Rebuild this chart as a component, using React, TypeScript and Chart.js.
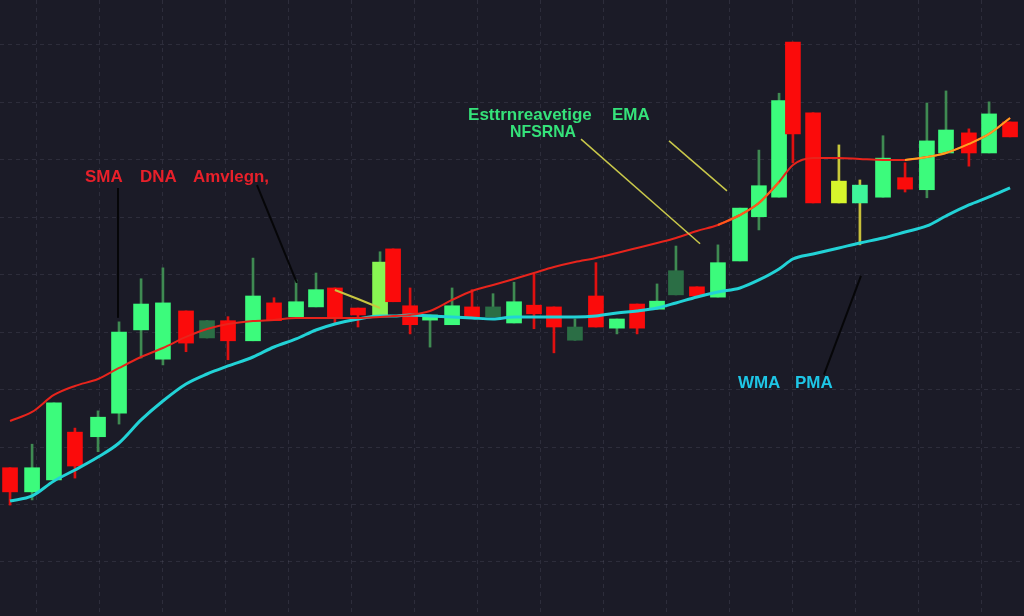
import React, { useEffect, useRef } from "react";
import { Chart, registerables } from "chart.js";

Chart.register(...registerables);

// ---- data ----
const sessions = [0.24, 1.29, 2.33, 3.33, 4.43, 5.43, 6.48, 7.52, 8.62, 9.62, 10.62, 11.81, 12.81, 13.86, 14.81, 15.71, 16.81, 17.86, 18.48, 19.29, 20.24, 21.29, 22.24, 23.24, 24.24, 25.19, 26.14, 27.14, 28.14, 29.14, 30.1, 31.05, 31.95, 32.95, 33.95, 35.0, 35.9, 36.86, 37.52, 38.48, 39.71, 40.71, 41.81, 42.86, 43.9, 44.81, 45.9, 46.86, 47.86];
const openPrices = [116.4, 112.2, 114.3, 122.6, 121.8, 125.9, 140.4, 135.3, 143.7, 139.0, 142.0, 138.5, 145.1, 142.7, 144.4, 147.7, 144.2, 143.0, 154.5, 144.6, 142.1, 141.3, 144.4, 142.7, 141.6, 144.7, 144.4, 138.6, 146.3, 140.7, 144.9, 144.0, 146.5, 147.9, 146.1, 152.4, 160.1, 163.5, 190.5, 178.2, 162.5, 162.5, 163.5, 166.9, 164.8, 171.2, 174.7, 171.2, 176.6];
const highPrices = [116.4, 120.5, 127.7, 123.3, 126.3, 141.8, 149.3, 151.2, 143.7, 142.0, 142.7, 152.9, 146.0, 149.1, 150.3, 147.7, 144.2, 154.0, 154.5, 147.7, 143.0, 147.7, 147.4, 146.7, 148.7, 150.1, 144.4, 142.3, 152.1, 142.3, 144.9, 148.4, 155.0, 147.9, 155.2, 161.6, 171.7, 181.6, 190.5, 178.2, 172.6, 166.5, 174.2, 169.5, 179.9, 182.0, 175.4, 180.1, 176.6];
const lowPrices = [109.9, 110.8, 114.3, 114.6, 119.2, 124.0, 135.5, 134.3, 136.6, 139.0, 135.2, 138.5, 142.0, 142.7, 144.4, 141.6, 140.9, 143.0, 145.3, 139.7, 137.4, 141.3, 142.7, 142.7, 141.6, 140.6, 136.4, 138.6, 140.9, 139.7, 139.7, 144.0, 146.5, 146.3, 146.1, 152.4, 157.8, 163.5, 169.5, 162.5, 162.5, 155.2, 163.5, 164.4, 163.4, 171.2, 168.9, 171.2, 174.0];
const closePrices = [112.2, 116.4, 127.7, 116.7, 125.2, 140.0, 144.9, 145.1, 138.1, 142.0, 138.5, 146.3, 142.0, 145.3, 147.4, 142.5, 143.0, 152.2, 145.3, 141.3, 143.0, 144.6, 142.7, 144.4, 145.3, 143.2, 140.9, 140.9, 140.9, 142.3, 140.7, 145.4, 150.7, 146.3, 152.1, 161.6, 165.5, 180.3, 174.5, 162.5, 166.3, 165.6, 170.3, 164.9, 173.3, 175.2, 171.2, 178.0, 174.0];
const smaLine = [124.54, 126.11, 129.07, 130.64, 131.85, 133.77, 135.68, 137.25, 139.17, 140.56, 141.43, 141.95, 142.13, 142.47, 142.47, 142.47, 142.47, 142.65, 142.82, 143.0, 143.69, 145.61, 147.17, 148.22, 149.26, 150.31, 151.35, 152.22, 152.92, 153.79, 154.66, 155.53, 156.4, 157.62, 158.66, 160.4, 162.49, 166.15, 169.11, 170.33, 170.33, 170.15, 169.98, 169.98, 170.5, 171.2, 172.77, 174.51, 177.29];
const wmaLine = [110.61, 111.49, 114.1, 116.01, 118.27, 120.71, 124.72, 128.02, 130.98, 132.72, 134.12, 135.68, 137.42, 138.82, 140.38, 141.43, 142.3, 142.82, 142.82, 143.0, 142.82, 142.65, 142.47, 142.3, 142.65, 142.65, 142.65, 142.65, 142.82, 143.34, 143.69, 144.21, 145.09, 146.13, 147.0, 147.7, 149.09, 151.0, 152.74, 153.62, 154.66, 155.53, 156.4, 157.44, 158.49, 160.23, 162.15, 163.54, 165.11];
const emaLine: (number | null)[] = [null, null, null, null, null, null, null, null, null, null, null, null, null, null, null, 147.35, 145.78, 144.21, null, null, null, null, null, null, null, null, null, null, null, null, null, null, null, null, 158.66, 160.4, 162.49, 166.15, null, null, null, null, null, 169.98, 170.5, 171.2, 172.77, 174.51, 177.29];
const gridX = [0, 3, 6, 9, 12, 15, 18, 21, 24, 27, 30, 33, 36, 39, 42, 45, 48];
const gridY = [100, 110, 120, 130, 140, 150, 160, 170, 180, 190];

const labelTexts = ["SMA", "DNA", "Amvlegn,", "Esttrnreavetige", "EMA", "NFSRNA", "WMA", "PMA"];

// ---- styles / layout ----
const X_MIN = -0.238;
const X_MAX = 48.524;
const Y_MIN = 90.59;
const Y_MAX = 197.83;
const BG = "#1b1b27";
const GRID = "rgba(120,120,140,0.2)";
const UP = "#3cfb7c";
const DOWN = "#fb0b0b";
const toneOverrides: Record<number, string> = { 9: "#2b6e45", 23: "#2b6e45", 27: "#2b6e45", 32: "#2b6e45", 17: "#88f552", 40: "#d7f52c", 41: "#3ef59a" };
const wickOverrides: Record<number, string> = { 40: "#c8c83a", 41: "#c8c03a" };

const labelStyle = [
  { x: 3.81, y: 166.15, w: 41, color: "#e8202a" },
  { x: 6.43, y: 166.15, w: 40, color: "#e8202a" },
  { x: 8.95, y: 166.15, w: 76, color: "#e8202a" },
  { x: 22.05, y: 176.94, w: 136, color: "#35e27a" },
  { x: 28.9, y: 176.94, w: 41, color: "#35e27a" },
  { x: 24.05, y: 173.98, w: 66, color: "#35e27a" },
  { x: 34.9, y: 130.29, w: 43, color: "#1ec6e6" },
  { x: 37.62, y: 130.29, w: 38, color: "#1ec6e6" },
];
const connectors = [
  { a: [5.38, 165.1], b: [5.38, 142.5], color: "#060608", w: 2 },
  { a: [12.0, 165.6], b: [13.9, 148.6], color: "#060608", w: 2 },
  { a: [40.76, 149.8], b: [39.0, 132.6], color: "#060608", w: 2 },
  { a: [27.43, 173.6], b: [33.1, 155.4], color: "#c9c84a", w: 1.5 },
  { a: [31.62, 173.3], b: [34.38, 164.6], color: "#c9c84a", w: 1.5 },
];

function bodyColor(i: number) {
  if (toneOverrides[i]) return toneOverrides[i];
  return closePrices[i] >= openPrices[i] ? UP : DOWN;
}
function wickColor(i: number) {
  if (wickOverrides[i]) return wickOverrides[i];
  return closePrices[i] >= openPrices[i] ? "#3f8a52" : "#e01010";
}

const bgPlugin = {
  id: "bg",
  beforeDraw(chart: any) {
    const ctx = chart.ctx;
    ctx.save();
    ctx.fillStyle = BG;
    ctx.fillRect(0, 0, chart.width, chart.height);
    ctx.restore();
  },
};

const annotationPlugin = {
  id: "annot",
  afterDatasetsDraw(chart: any) {
    const ctx = chart.ctx;
    const xs = chart.scales.x;
    const ys = chart.scales.y;
    ctx.save();
    connectors.forEach((c) => {
      ctx.strokeStyle = c.color;
      ctx.lineWidth = c.w;
      ctx.beginPath();
      ctx.moveTo(xs.getPixelForValue(c.a[0]), ys.getPixelForValue(c.a[1]));
      ctx.lineTo(xs.getPixelForValue(c.b[0]), ys.getPixelForValue(c.b[1]));
      ctx.stroke();
    });
    ctx.font = "bold 17px 'Liberation Sans', Arial, sans-serif";
    ctx.textBaseline = "alphabetic";
    ctx.textAlign = "left";
    labelTexts.forEach((t, i) => {
      const s = labelStyle[i];
      ctx.fillStyle = s.color;
      ctx.fillText(t, xs.getPixelForValue(s.x), ys.getPixelForValue(s.y), s.w);
    });
    ctx.restore();
  },
};

export default function App() {
  const ref = useRef<HTMLCanvasElement | null>(null);
  useEffect(() => {
    document.body.style.margin = "0";
    document.body.style.background = BG;
    if (!ref.current) return;
    const bodies = sessions.map((t, i) => ({ x: t, y: [openPrices[i], closePrices[i]] }));
    const wicks = sessions.map((t, i) => ({ x: t, y: [lowPrices[i], highPrices[i]] }));
    const line = (arr: (number | null)[]) => sessions.map((t, i) => ({ x: t, y: arr[i] }));
    const chart = new Chart(ref.current, {
      type: "bar",
      data: {
        datasets: [
          {
            type: "line",
            label: "EMA",
            data: line(emaLine) as any,
            borderColor: "#ffa020",
            segment: {
              borderColor: (c: any) => (c.p0DataIndex < 20 ? "#c8c640" : c.p0DataIndex < 40 ? "#ff5a1a" : "#ffa020"),
            },
            borderWidth: 2,
            pointRadius: 0,
            cubicInterpolationMode: "monotone",
            spanGaps: false,
            order: 0,
          } as any,
          {
            type: "line",
            label: "SMA",
            data: line(smaLine) as any,
            borderColor: "#e8241c",
            borderWidth: 2,
            pointRadius: 0,
            cubicInterpolationMode: "monotone",
            order: 1,
          } as any,
          {
            type: "line",
            label: "WMA",
            data: line(wmaLine) as any,
            borderColor: "#22d2d6",
            borderWidth: 3,
            pointRadius: 0,
            cubicInterpolationMode: "monotone",
            order: 1,
          } as any,
          {
            type: "bar",
            label: "body",
            data: bodies as any,
            backgroundColor: sessions.map((_, i) => bodyColor(i)),
            borderWidth: 0,
            barThickness: 15,
            grouped: false,
            order: 2,
          } as any,
          {
            type: "bar",
            label: "wick",
            data: wicks as any,
            backgroundColor: sessions.map((_, i) => wickColor(i)),
            borderWidth: 0,
            barThickness: 2,
            grouped: false,
            order: 3,
          } as any,
        ],
      },
      options: {
        animation: false,
        responsive: false,
        maintainAspectRatio: false,
        layout: { padding: 0 },
        plugins: { legend: { display: false }, tooltip: { enabled: false } },
        scales: {
          x: {
            type: "linear",
            min: X_MIN,
            max: X_MAX,
            offset: false,
            ticks: { display: false },
            grid: { color: GRID, drawTicks: false, lineWidth: 1 },
            border: { display: false, dash: [4, 4] },
            afterBuildTicks: (s: any) => {
              s.ticks = gridX.map((v) => ({ value: v }));
            },
          },
          y: {
            type: "linear",
            min: Y_MIN,
            max: Y_MAX,
            ticks: { display: false },
            grid: { color: GRID, drawTicks: false, lineWidth: 1 },
            border: { display: false, dash: [4, 4] },
            afterBuildTicks: (s: any) => {
              s.ticks = gridY.map((v) => ({ value: v }));
            },
          },
        },
      } as any,
      plugins: [bgPlugin, annotationPlugin],
    });
    return () => chart.destroy();
  }, []);
  return (
    <div style={{ width: 1024, height: 616, background: BG }}>
      <canvas ref={ref} width={1024} height={616} style={{ display: "block" }} />
    </div>
  );
}
